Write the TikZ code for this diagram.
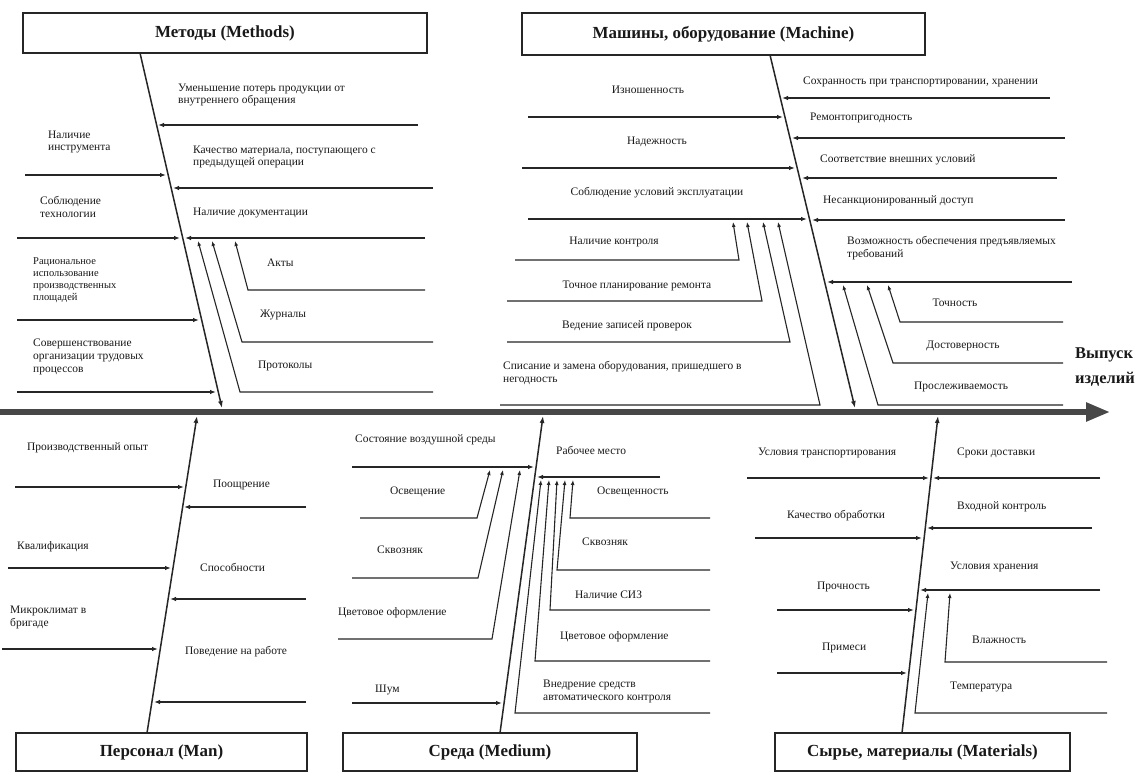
\documentclass[tikz,border=0pt]{standalone}
\usepackage{fontspec}
\setmainfont{Liberation Serif}
\usetikzlibrary{arrows.meta}
\newcommand{\ribarrow}[4]{\coordinate (#1a) at (#2,#3); \coordinate (#1b) at (#4,#3); \draw[rib] (#1a) -- (#1b);}
\newcommand{\subarrow}[6]{\coordinate (#1a) at (#2,#3); \coordinate (#1k) at (#4,#3); \coordinate (#1b) at (#5,#6); \draw[subrib] (#1a) -- (#1k) -- (#1b);}
\begin{document}
\begin{tikzpicture}[x=1bp,y=-1bp,
  lab/.style={anchor=west,inner sep=0pt,align=left,font=\fontsize{11.5}{13}\selectfont,text=black!90},
  labc/.style={lab,anchor=center,align=center},
  titlebox/.style={draw=black!85,line width=2.2bp,inner sep=0pt,font=\fontsize{17}{20}\selectfont\bfseries,text=black!90},
  rib/.style={draw=black!85,line width=1.4bp,-{Latex[length=6bp,width=4.5bp]}},
  subrib/.style={draw=black!85,line width=1.1bp,-{Latex[length=5bp,width=4bp]}},
  bone/.style={draw=black!85,line width=1.5bp,-{Latex[length=7bp,width=5bp]}},
  mainspine/.style={draw=black!72,line width=5.5bp,-{Triangle[length=24bp,width=18bp]}},
]
\useasboundingbox[fill=white] (0,0) rectangle (1136,774);

% boxes
\node[titlebox,minimum width=404bp,minimum height=40bp] (methods) at (225,33) {Методы (Methods)};
\node[titlebox,minimum width=403bp,minimum height=42bp] (machine) at (723.5,34) {Машины, оборудование (Machine)};
\node[titlebox,minimum width=291bp,minimum height=38bp] (man) at (161.5,752) {Персонал (Man)};
\node[titlebox,minimum width=294bp,minimum height=38bp] (medium) at (490,752) {Среда (Medium)};
\node[titlebox,minimum width=295bp,minimum height=38bp] (materials) at (922.5,752) {Сырье, материалы (Materials)};

% main spine
\coordinate (ms0) at (0,412);
\coordinate (ms1) at (1110,412);
\draw[mainspine] (ms0) -- (ms1);
\node[anchor=west,inner sep=0pt,align=left,font=\fontsize{16.5}{26}\selectfont\bfseries,text=black!90] (out) at (1075,367) {Выпуск\\изделий};

% category bones
\coordinate (bm1) at (140,53);  \coordinate (bm2) at (222,408);
\coordinate (bc1) at (770,55);  \coordinate (bc2) at (855,408);
\coordinate (bp1) at (147,733); \coordinate (bp2) at (197,416);
\coordinate (be1) at (500,733); \coordinate (be2) at (543,416);
\coordinate (bt1) at (902,733); \coordinate (bt2) at (938,416);
\draw[bone] (bm1) -- (bm2);
\draw[bone] (bc1) -- (bc2);
\draw[bone] (bp1) -- (bp2);
\draw[bone] (be1) -- (be2);
\draw[bone] (bt1) -- (bt2);

% ---- Methods ----
\ribarrow{r1}{418}{125}{158}
\ribarrow{r2}{433}{188}{173}
\ribarrow{r3}{25}{175}{166}
\ribarrow{r4}{17}{238}{180}
\ribarrow{r5}{425}{238}{185}
\ribarrow{r6}{17}{320}{199}
\ribarrow{r7}{17}{392}{216}
\subarrow{s1}{425}{290}{248}{235}{241}
\subarrow{s2}{433}{342}{242}{212}{241}
\subarrow{s3}{433}{392}{240}{198}{241}
\node[lab] (t1) at (178,95) {Уменьшение потерь продукции от\\внутреннего обращения};
\node[lab] (t2) at (193,157) {Качество материала, поступающего с\\предыдущей операции};
\node[lab] (t3) at (193,213) {Наличие документации};
\node[lab] (t4) at (267,263) {Акты};
\node[lab] (t5) at (260,315) {Журналы};
\node[lab] (t6) at (258,366) {Протоколы};
\node[lab] (t7) at (48,142) {Наличие\\инструмента};
\node[lab] (t8) at (40,207) {Соблюдение\\технологии};
\node[lab,font=\fontsize{10.5}{12}\selectfont] (t9) at (33,280) {Рациональное\\использование\\производственных\\площадей};
\node[lab] (t10) at (33,357) {Совершенствование\\организации трудовых\\процессов};

% ---- Machine ----
\ribarrow{r8}{528}{117}{783}
\ribarrow{r9}{522}{168}{795}
\ribarrow{r10}{528}{219}{807}
\ribarrow{r11}{1050}{98}{782}
\ribarrow{r12}{1065}{138}{792}
\ribarrow{r13}{1057}{178}{802}
\ribarrow{r14}{1065}{220}{812}
\ribarrow{r15}{1072}{282}{827}
\subarrow{s4}{515}{260}{739}{733}{222}
\subarrow{s5}{507}{301}{762}{747}{222}
\subarrow{s6}{507}{342}{790}{763}{222}
\subarrow{s7}{500}{405}{820}{778}{222}
\subarrow{s8}{1063}{322}{900}{888}{285}
\subarrow{s9}{1063}{363}{893}{867}{285}
\subarrow{s10}{1063}{405}{878}{843}{285}
\node[labc] (u1) at (648,90) {Изношенность};
\node[labc] (u2) at (657,142) {Надежность};
\node[labc] (u3) at (657,193) {Соблюдение условий эксплуатации};
\node[labc] (u4) at (614,242) {Наличие контроля};
\node[labc] (u5) at (637,286) {Точное планирование ремонта};
\node[labc] (u6) at (627,326) {Ведение записей проверок};
\node[lab] (u7) at (503,373) {Списание и замена оборудования, пришедшего в\\негодность};
\node[lab] (u8) at (803,82) {Сохранность при транспортировании, хранении};
\node[lab] (u9) at (810,118) {Ремонтопригодность};
\node[lab] (u10) at (820,160) {Соответствие внешних условий};
\node[lab] (u11) at (823,201) {Несанкционированный доступ};
\node[lab] (u12) at (847,248) {Возможность обеспечения предъявляемых\\требований};
\node[labc] (u13) at (955,303) {Точность};
\node[labc] (u14) at (963,346) {Достоверность};
\node[labc] (u15) at (961,387) {Прослеживаемость};

% ---- Man ----
\ribarrow{r16}{15}{487}{184}
\ribarrow{r17}{306}{507}{184}
\ribarrow{r18}{8}{568}{171}
\ribarrow{r19}{306}{599}{170}
\ribarrow{r20}{2}{649}{158}
\ribarrow{r21}{306}{702}{154}
\node[lab] (v1) at (27,448) {Производственный опыт};
\node[lab] (v2) at (213,485) {Поощрение};
\node[lab] (v3) at (17,547) {Квалификация};
\node[lab] (v4) at (200,567) {Способности};
\node[lab] (v5) at (10,617) {Микроклимат в\\бригаде};
\node[lab] (v6) at (185,652) {Поведение на работе};

% ---- Medium ----
\ribarrow{r22}{352}{467}{534}
\ribarrow{r23}{660}{477}{537}
\ribarrow{r24}{352}{703}{502}
\subarrow{s11}{360}{518}{477}{490}{470}
\subarrow{s12}{352}{578}{478}{503}{470}
\subarrow{s13}{338}{639}{492}{520}{470}
\subarrow{s14}{710}{518}{570}{573}{480}
\subarrow{s15}{710}{570}{557}{565}{480}
\subarrow{s16}{710}{610}{550}{557}{480}
\subarrow{s17}{710}{661}{535}{549}{480}
\subarrow{s18}{710}{713}{515}{541}{480}
\node[lab] (w1) at (355,440) {Состояние воздушной среды};
\node[lab] (w2) at (556,450) {Рабочее место};
\node[lab] (w3) at (390,492) {Освещение};
\node[lab] (w4) at (377,550) {Сквозняк};
\node[lab] (w5) at (338,613) {Цветовое оформление};
\node[lab] (w6) at (375,690) {Шум};
\node[lab] (w7) at (597,492) {Освещенность};
\node[lab] (w8) at (582,542) {Сквозняк};
\node[lab] (w9) at (575,595) {Наличие СИЗ};
\node[lab] (w10) at (560,637) {Цветовое оформление};
\node[lab] (w11) at (543,691) {Внедрение средств\\автоматического контроля};

% ---- Materials ----
\ribarrow{r25}{747}{478}{929}
\ribarrow{r26}{1100}{478}{933}
\ribarrow{r27}{1092}{528}{927}
\ribarrow{r28}{755}{538}{922}
\ribarrow{r29}{1100}{590}{920}
\ribarrow{r30}{777}{610}{914}
\ribarrow{r31}{777}{673}{907}
\subarrow{s19}{1107}{662}{945}{950}{593}
\subarrow{s20}{1107}{713}{915}{928}{593}
\node[lab] (x1) at (758,453) {Условия транспортирования};
\node[lab] (x2) at (957,453) {Сроки доставки};
\node[lab] (x3) at (957,507) {Входной контроль};
\node[lab] (x4) at (787,516) {Качество обработки};
\node[lab] (x5) at (950,567) {Условия хранения};
\node[lab] (x6) at (817,587) {Прочность};
\node[lab] (x7) at (972,640) {Влажность};
\node[lab] (x8) at (822,648) {Примеси};
\node[lab] (x9) at (950,687) {Температура};
\end{tikzpicture}
\end{document}
